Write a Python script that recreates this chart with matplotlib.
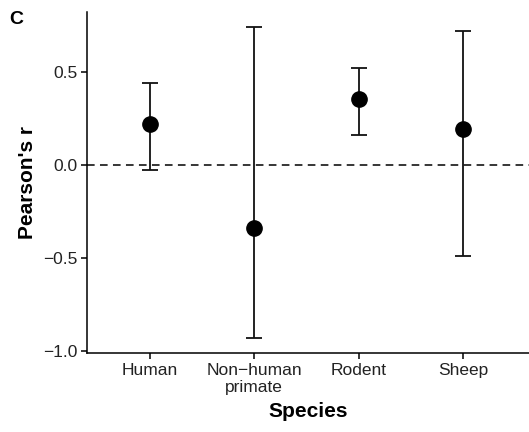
import matplotlib
matplotlib.use("Agg")
import matplotlib.pyplot as plt

plt.rcParams['font.family'] = ['Liberation Sans', 'DejaVu Sans']

# correlation per species with confidence interval
species = ["Human", "Non\u2212human\nprimate", "Rodent", "Sheep"]
r_values = [0.22, -0.34, 0.35, 0.19]
ci_low = [-0.03, -0.93, 0.16, -0.49]
ci_high = [0.44, 0.74, 0.52, 0.72]

x = list(range(1, len(species) + 1))
err_low = [r - lo for r, lo in zip(r_values, ci_low)]
err_high = [hi - r for r, hi in zip(r_values, ci_high)]

fig = plt.figure(figsize=(5.29, 4.32), dpi=100)
ax = fig.add_axes([0.1645, 0.183, 0.8355, 0.789])

ax.axhline(0, color='black', lw=1.1, dashes=(5, 3.5), zorder=1)
ax.errorbar(x, r_values, yerr=[err_low, err_high], fmt='o', color='black',
            ecolor='#111111', elinewidth=1.3, capsize=5.5, capthick=1.3,
            markersize=11, zorder=3)

ax.set_xlim(0.4, 4.63)
ax.set_ylim(-1.013, 0.82)
ax.set_xticks(x)
ax.set_xticklabels(species, fontsize=12.5, color='#222222', linespacing=1.2)
ax.set_yticks([-1.0, -0.5, 0.0, 0.5])
ax.set_yticklabels(['\u22121.0', '\u22120.5', '0.0', '0.5'], fontsize=12.5, color='#222222')

for side in ['top', 'right']:
    ax.spines[side].set_visible(False)
for side in ['left', 'bottom']:
    ax.spines[side].set_linewidth(1.1)
ax.tick_params(length=4, width=1.1, pad=3)

ax.set_xlabel('Species', fontsize=15, fontweight='bold', labelpad=5)
ax.set_ylabel("Pearson's r", fontsize=15, fontweight='bold', labelpad=4)

fig.text(0.017, 0.975, 'C', fontsize=14, fontweight='bold', va='top', ha='left')

fig.savefig('out.png', dpi=100)
